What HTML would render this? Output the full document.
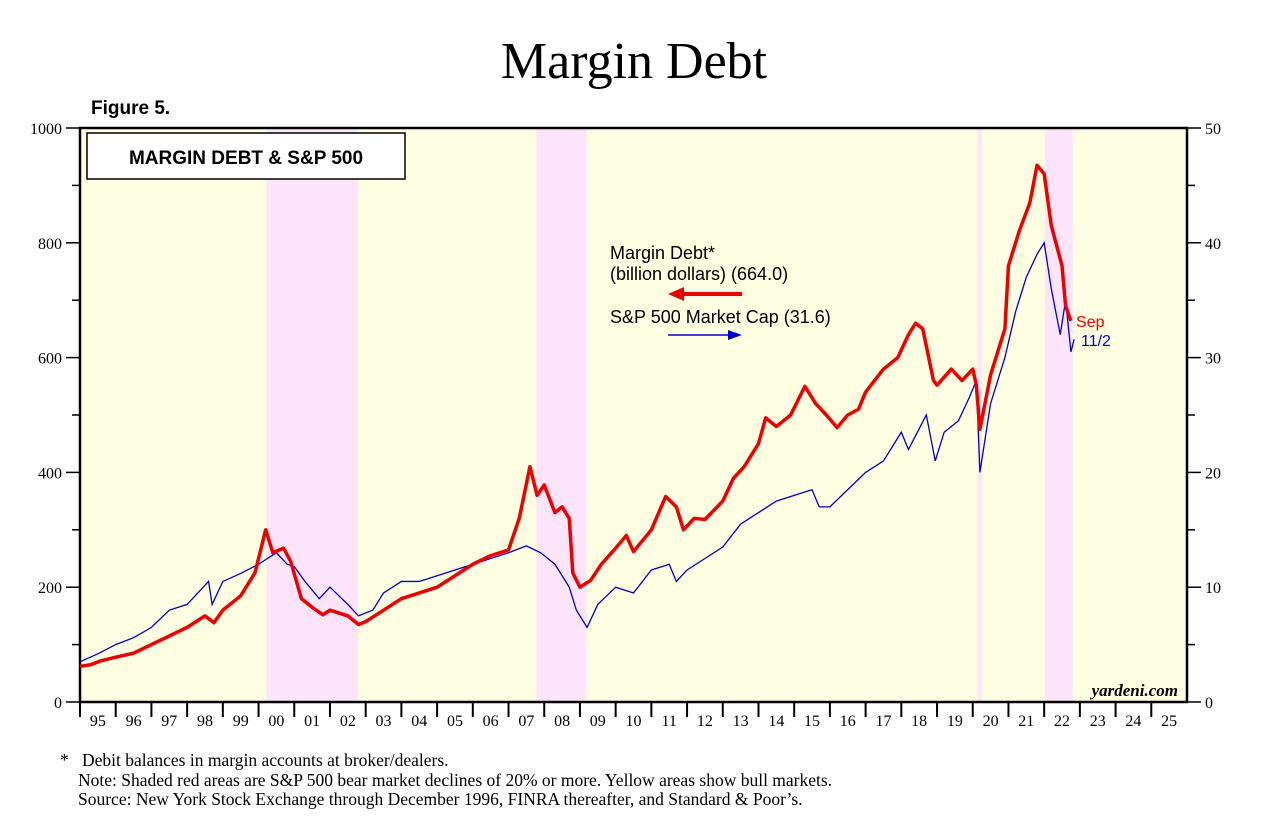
<!DOCTYPE html>
<html><head><meta charset="utf-8"><style>
body{margin:0;background:#fff;width:1280px;height:834px;overflow:hidden}
svg text{font-family:"Liberation Serif",serif}
</style></head><body>
<svg id="c" width="1280" height="834">
<text x="634" y="78" text-anchor="middle" font-size="52">Margin Debt</text>
<text x="91" y="114" font-size="19" font-weight="bold" style="font-family:'Liberation Sans',sans-serif">Figure 5.</text>
<g id="bg"></g><g id="ax"></g><g id="ser"></g>
<rect x="87" y="133" width="318" height="46" fill="#fff" stroke="#000" stroke-width="1.5"/>
<text x="246" y="164" text-anchor="middle" font-size="19" font-weight="bold" style="font-family:'Liberation Sans',sans-serif">MARGIN DEBT &amp; S&amp;P 500</text>
<g style="font-family:'Liberation Sans',sans-serif" font-size="18">
<text x="610" y="259" style="font-family:'Liberation Sans',sans-serif">Margin Debt*</text>
<text x="610" y="280" style="font-family:'Liberation Sans',sans-serif">(billion dollars) (664.0)</text>
<line x1="742" y1="294" x2="680" y2="294" stroke="#e00" stroke-width="4"/>
<polygon points="668,294 684,287 684,301" fill="#e00"/>
<text x="610" y="323" style="font-family:'Liberation Sans',sans-serif">S&amp;P 500 Market Cap (31.6)</text>
<line x1="668" y1="335" x2="730" y2="335" stroke="#00c" stroke-width="1.5"/>
<polygon points="742,335 728,330 728,340" fill="#00c"/>
</g>
<text x="1076" y="327" fill="#e00" font-size="16" style="font-family:'Liberation Sans',sans-serif">Sep</text>
<text x="1081" y="346" fill="#00c" font-size="16" style="font-family:'Liberation Sans',sans-serif">11/2</text>
<text x="1178" y="696" text-anchor="end" font-size="17" font-style="italic" font-weight="bold">yardeni.com</text>
<g font-size="17.5">
<text x="60" y="766">*</text>
<text x="82" y="766">Debit balances in margin accounts at broker/dealers.</text>
<text x="78" y="786">Note: Shaded red areas are S&amp;P 500 bear market declines of 20% or more. Yellow areas show bull markets.</text>
<text x="78" y="805">Source: New York Stock Exchange through December 1996, FINRA thereafter, and Standard &amp; Poor’s.</text>
</g>
</svg>
<script>
const bearStarts=[2000.22,2007.78,2020.13,2022.02];
const bearEnds=[2002.78,2009.18,2020.25,2022.8];
const leftTicks=[0,200,400,600,800,1000];
const rightTicks=[0,10,20,30,40,50];
const yearLabels=["95","96","97","98","99","00","01","02","03","04","05","06","07","08","09","10","11","12","13","14","15","16","17","18","19","20","21","22","23","24","25"];
const mdT=[1995,1995.3,1995.6,1996,1996.5,1997,1997.5,1998,1998.5,1998.75,1999,1999.5,1999.9,2000.2,2000.4,2000.7,2000.9,2001.2,2001.5,2001.8,2002,2002.5,2002.8,2003,2003.5,2004,2004.5,2005,2005.5,2006,2006.5,2007,2007.3,2007.5,2007.6,2007.8,2008,2008.3,2008.5,2008.7,2008.8,2009,2009.3,2009.6,2010,2010.3,2010.5,2011,2011.4,2011.7,2011.9,2012.2,2012.5,2013,2013.3,2013.6,2014,2014.2,2014.5,2014.9,2015.3,2015.6,2015.9,2016.2,2016.5,2016.8,2017,2017.5,2017.9,2018.2,2018.4,2018.6,2018.9,2019,2019.4,2019.7,2020,2020.1,2020.2,2020.5,2020.9,2021,2021.3,2021.6,2021.8,2022,2022.2,2022.5,2022.6,2022.75];
const mdV=[62,65,72,78,85,100,115,130,150,138,160,185,225,300,260,268,245,180,165,152,160,150,135,140,160,180,190,200,220,240,255,265,320,380,410,360,378,330,340,320,225,200,212,240,268,290,262,300,358,340,300,320,318,350,390,410,450,495,480,500,550,520,500,478,500,510,540,580,600,640,660,650,560,552,580,560,580,552,475,570,650,760,820,870,935,920,830,760,690,664];
const spT=[1995,1995.5,1996,1996.5,1997,1997.5,1998,1998.6,1998.7,1999,1999.5,2000,2000.5,2000.8,2001,2001.3,2001.7,2002,2002.5,2002.8,2003.2,2003.5,2004,2004.5,2005,2006,2007,2007.5,2007.9,2008.3,2008.7,2008.9,2009.2,2009.5,2010,2010.5,2011,2011.5,2011.7,2012,2012.5,2013,2013.5,2014,2014.5,2015,2015.5,2015.7,2016,2016.5,2017,2017.5,2018,2018.2,2018.7,2018.95,2019.2,2019.6,2019.9,2020.1,2020.2,2020.5,2020.9,2021.2,2021.5,2021.8,2022,2022.2,2022.45,2022.6,2022.75,2022.84];
const spV=[3.5,4.2,5,5.6,6.5,8,8.5,10.5,8.5,10.5,11.2,12,13,12,11.8,10.5,9,10,8.5,7.5,8,9.5,10.5,10.5,11,12,13,13.6,13,12,10,8,6.5,8.5,10,9.5,11.5,12,10.5,11.5,12.5,13.5,15.5,16.5,17.5,18,18.5,17,17,18.5,20,21,23.5,22,25,21,23.5,24.5,26.5,28,20,26,30,34,37,39,40,36,32,35,30.5,31.6];
const X0=80,X1=1187,Y0=702,Y1=128,T0=1995,T1=2026;
const x=t=>X0+(t-T0)*(X1-X0)/(T1-T0);
const yl=v=>Y0-v*(Y0-Y1)/1000;
const yr=v=>Y0-v*(Y0-Y1)/50;
const NS="http://www.w3.org/2000/svg";
function mk(p,tag,a){const e=document.createElementNS(NS,tag);for(const k in a)e.setAttribute(k,a[k]);p.appendChild(e);return e;}
const bg=document.getElementById('bg'),ax=document.getElementById('ax'),ser=document.getElementById('ser');
let r=mk(bg,'rect',{x:X0,y:Y1,width:X1-X0,height:Y0-Y1,fill:'#fefee2'});


bearStarts.forEach((s,i)=>{const e=mk(bg,'rect',{x:x(s),y:Y1,width:x(bearEnds[i])-x(s),height:Y0-Y1,fill:'#fce4fb'});

});
let f=mk(ax,'rect',{x:X0,y:Y1,width:X1-X0,height:Y0-Y1,fill:'none',stroke:'#000','stroke-width':2.5});


for(let v=0;v<=1000;v+=100){const major=v%200===0;
mk(ax,'line',{x1:X0-(major?14:8),x2:X0,y1:yl(v),y2:yl(v),stroke:'#000','stroke-width':1.5});
mk(ax,'line',{x1:X1,x2:X1+(major?14:8),y1:yl(v),y2:yl(v),stroke:'#000','stroke-width':1.5});}
leftTicks.forEach(v=>{const t=mk(ax,'text',{x:X0-18,y:yl(v)+6,'text-anchor':'end','font-size':16});t.textContent=v;

});
rightTicks.forEach(v=>{const t=mk(ax,'text',{x:X1+18,y:yr(v)+6,'font-size':16});t.textContent=v;

});
yearLabels.forEach((l,i)=>{mk(ax,'line',{x1:x(T0+i),x2:x(T0+i),y1:Y0,y2:Y0+15,stroke:'#000','stroke-width':2});
const t=mk(ax,'text',{x:x(T0+i+0.5),y:Y0+24,'text-anchor':'middle','font-size':16});t.textContent=l;

});
let pb=mk(ser,'polyline',{points:spT.map((t,i)=>x(t)+','+yr(spV[i])).join(' '),fill:'none',stroke:'#0000cc','stroke-width':1.3});


let pr=mk(ser,'polyline',{points:mdT.map((t,i)=>x(t)+','+yl(mdV[i])).join(' '),fill:'none',stroke:'#ee0000','stroke-width':3.5,'stroke-linejoin':'round'});


</script>
</body></html>
